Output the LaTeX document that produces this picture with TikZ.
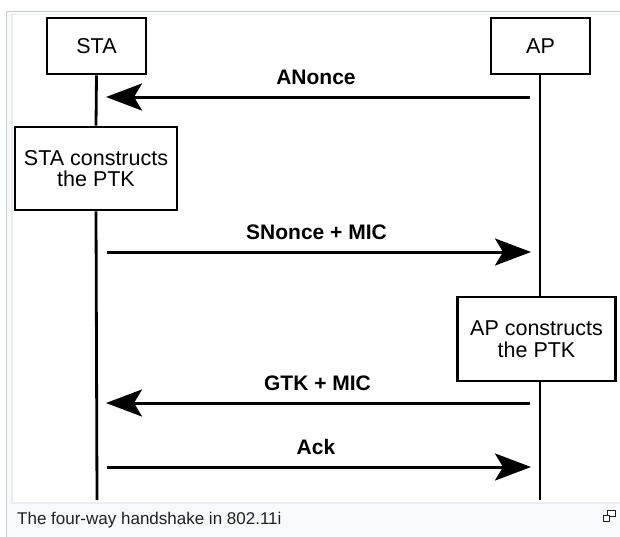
\documentclass[tikz,border=0pt]{standalone}
\usepackage{fontspec}
\setmainfont{Liberation Sans}
\usetikzlibrary{arrows.meta}
\definecolor{frameouter}{HTML}{C8CCD1}
\definecolor{frameinner}{HTML}{EAECF0}
\definecolor{capbg}{HTML}{F8F9FA}
\definecolor{captext}{HTML}{202122}
\tikzset{
  actor/.style={draw=black, line width=2.8pt, fill=white, minimum width=99pt, minimum height=56pt, inner sep=0pt, font=\fontsize{21.5}{22}\selectfont},
  actionbox/.style={draw=black, line width=2.8pt, fill=white, inner sep=0pt, align=center, font=\fontsize{21.5}{21.5}\selectfont},
  lifeline/.style={line width=2.8pt},
  msg/.style={line width=3pt, -{Stealth[length=36pt,width=27pt,inset=8pt]}, shorten <=10pt, shorten >=9pt},
  msglabel/.style={anchor=base, inner sep=0pt, font=\fontsize{21}{24}\selectfont\bfseries},
}
\begin{document}
\begin{tikzpicture}[x=1pt,y=-1pt]
\useasboundingbox (0,0) rectangle (620,536);
% thumbnail frame
\fill[white] (0,0) rectangle (620,536);
\draw[frameouter, fill=capbg, line width=1pt] (6.5,11.5) rectangle (630,545);
\draw[frameinner, fill=white, line width=1.5pt] (12,14.5) rectangle (628,503);
\node[anchor=base west, inner sep=0pt, text=captext, font=\fontsize{17}{18}\selectfont] (cap) at (17,524) {The four-way handshake in 802.11i};
% enlarge icon
\draw[captext, line width=0.9pt, fill=white] (607.5,510.5) rectangle (615.5,516.5);
\draw[captext, line width=0.9pt, fill=white] (603.5,515.5) rectangle (609.5,521.5);

% actors
\node[actor] (sta) at (96.5,46) {STA};
\node[actor] (ap) at (540.5,46) {AP};
\coordinate (staend) at (97,500);
\coordinate (apend) at (540,500);

% action boxes
\node[actionbox, minimum width=162pt, minimum height=83pt] (stac) at (96,168.5) {STA constructs\\the PTK};
\node[actionbox, minimum width=158pt, minimum height=84pt] (apc) at (536.5,339) {AP constructs\\the PTK};

% lifelines
\draw[lifeline] (sta.south) -- (stac.north);
\draw[lifeline] (stac.south) -- (staend);
\draw[lifeline] (ap.south -| apend) -- (apc.north -| apend);
\draw[lifeline] (apc.south -| apend) -- (apend);

% message points on lifelines
\coordinate (s1) at (97,97);   \coordinate (a1) at (540,97);
\coordinate (s2) at (97,252);  \coordinate (a2) at (540,252);
\coordinate (s3) at (97,403);  \coordinate (a3) at (540,403);
\coordinate (s4) at (97,467);  \coordinate (a4) at (540,467);

\draw[msg] (a1) -- (s1);
\draw[msg] (s2) -- (a2);
\draw[msg] (a3) -- (s3);
\draw[msg] (s4) -- (a4);

\node[msglabel] (l1) at (316,84) {ANonce};
\node[msglabel] (l2) at (316.5,239) {SNonce + MIC};
\node[msglabel] (l3) at (317.5,390) {GTK + MIC};
\node[msglabel] (l4) at (316,454) {Ack};
\end{tikzpicture}
\end{document}
